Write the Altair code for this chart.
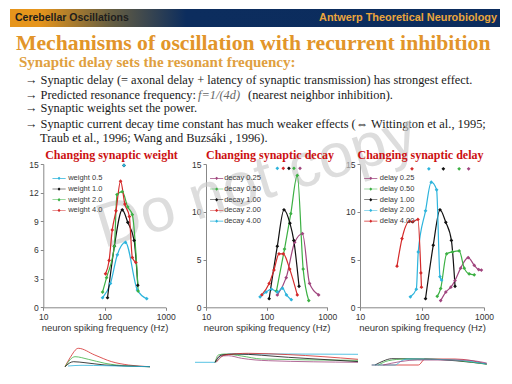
import altair as alt
import pandas as pd

# ---------------- text ----------------
HEADER_LEFT = "Cerebellar Oscillations"
HEADER_RIGHT = "Antwerp Theoretical Neurobiology"
TITLE = "Mechanisms of oscillation with recurrent inhibition"
SUBTITLE = "Synaptic delay sets the resonant frequency:"
BULLET1 = "\u2192 Synaptic delay (= axonal delay + latency of synaptic transmission) has strongest effect."
BULLET2A = "\u2192 Predicted resonance frequency:"
BULLET2B = "f=1/(4d)"
BULLET2C = "(nearest neighbor inhibition)."
BULLET3 = "\u2192 Synaptic weights set the power."
BULLET4 = "\u2192 Synaptic current decay time constant has much weaker effects (\u21d4 Wittington et al., 1995;"
BULLET5 = "Traub et al., 1996; Wang and Buzs\u00e1ki , 1996)."
PANEL_TITLES = ["Changing synaptic weight", "Changing synaptic decay", "Changing synaptic delay"]
X_TITLE = "neuron spiking frequency (Hz)"
WATERMARK = "Do not copy"
X_TICKS = [10, 100, 1000]

# ---------------- panel 1: synaptic weight ----------------
weight_labels = ["weight 0.5", "weight 1.0", "weight 2.0", "weight 4.0"]
weight_colors = ["#2db4dc", "#111111", "#3cb043", "#d42a2a"]
w05_f = [93, 125, 162, 220, 345, 490]
w05_v = [1.0, 2.5, 5.5, 6.8, 1.8, 0.9]
w10_f = [112, 145, 195, 240, 305, 350]
w10_v = [1.0, 6.4, 10.2, 8.9, 7.0, 2.3]
w20_f = [93, 108, 145, 160, 195, 240, 285, 355]
w20_v = [1.6, 3.1, 6.4, 11.8, 12.1, 10.5, 9.7, 1.7]
w40_f = [104, 119, 134, 154, 183, 215, 255, 285, 325]
w40_v = [3.5, 4.9, 8.1, 10.1, 13.2, 10.8, 9.5, 5.2, 4.7]
weight_top_series = ["weight 1.0", "weight 0.5"]
weight_top_f = [208, 208]
weight_top_v = [14.85, 14.85]
weight_yticks = [0, 3, 6, 9, 12, 15]

# ---------------- panel 2: synaptic decay ----------------
decay_labels = ["decay 0.25", "decay 0.50", "decay 1.00", "decay 2.00", "decay 4.00"]
decay_colors = ["#a0457e", "#3cb043", "#111111", "#d42a2a", "#2db4dc"]
d025_f = [150, 210, 290, 390, 510, 720]
d025_v = [1.3, 3.1, 6.8, 7.7, 2.5, 1.3]
d050_f = [145, 197, 250, 320, 400, 495]
d050_v = [1.7, 6.1, 9.8, 13.8, 4.0, 0.7]
d100_f = [110, 150, 193, 242, 280, 342]
d100_v = [0.9, 6.4, 10.2, 8.8, 7.0, 2.2]
d200_f = [83, 110, 132, 160, 188, 240, 320]
d200_v = [1.3, 2.5, 3.9, 5.6, 5.6, 4.0, 1.3]
d400_f = [78, 98, 120, 150, 182, 212, 255]
d400_v = [1.1, 1.6, 1.9, 1.6, 2.0, 1.3, 0.8]
decay_top_series = ["decay 0.25", "decay 0.50", "decay 1.00", "decay 2.00", "decay 4.00"]
decay_top_f = [355, 282, 233, 188, 150]
decay_top_v = [14.55, 14.55, 14.55, 14.55, 14.55]

# ---------------- panel 3: synaptic delay ----------------
delay_labels = ["delay 0.25", "delay 0.50", "delay 1.00", "delay 2.00", "delay 4.00"]
delay_colors = ["#a0457e", "#3cb043", "#111111", "#2db4dc", "#d42a2a"]
l025_f = [200, 242, 292, 341, 420, 556, 696, 820, 908]
l025_v = [0.7, 1.6, 2.1, 2.8, 4.1, 5.2, 4.4, 3.95, 3.9]
l050_f = [176, 200, 250, 310, 398, 480, 575, 696]
l050_v = [1.15, 1.96, 5.6, 5.8, 5.9, 4.1, 3.5, 3.4]
l100_f = [114, 152, 195, 242, 298, 341]
l100_v = [0.9, 6.5, 10.2, 8.9, 7.0, 2.2]
l200_f = [65, 81, 87, 114, 141, 172, 195, 207]
l200_v = [1.1, 1.9, 5.8, 10.1, 13.1, 12.3, 3.2, 2.85]
l400_f = [39.5, 47.6, 62.7, 71, 86, 96, 98]
l400_v = [4.3, 7.2, 9.0, 8.95, 9.2, 3.6, 2.1]
delay_top_series = ["delay 0.25", "delay 0.50", "delay 1.00", "delay 2.00", "delay 4.00"]
delay_top_f = [565, 397, 221, 129, 69]
delay_top_v = [14.5, 14.5, 14.5, 14.5, 14.5]
decay_yticks = [0, 5, 10, 15]

# ---------------- thumbnail traces (time, amplitude) ----------------
th1_series = ["weight 4.0", "weight 2.0", "weight 1.0", "weight 0.5"]
th1_t = [[0, 6, 15.6, 35, 55, 74.5, 100],
         [0, 11.8, 27.4, 47, 74, 100],
         [0, 9.8, 23.5, 47, 86, 100],
         [3.5, 20, 47, 100]]
th1_a = [[0, 9, 18.4, 11.7, 5, 1.7, 0],
         [0, 10, 7.4, 3.4, 0.7, 0],
         [0, 5, 4, 1.7, 0.4, 0],
         [0.7, 1.4, 1, 0]]
th2_series = ["decay 4.00", "decay 0.25", "decay 0.50", "decay 1.00", "decay 2.00"]
th2_t = [[0, 12.3, 16.4, 22.5, 57.3, 100],
         [12.3, 15.3, 20.4, 28.6, 45, 100],
         [12.3, 14.3, 18.4, 28.6, 40.9, 100],
         [12.3, 16.4, 24.5, 57.3, 100],
         [13, 18.4, 32.7, 57, 100]]
th2_a = [[0, 0, 6.3, 8.3, 8.3, 8],
         [0, 6.3, 6.6, 4, 1.6, 0],
         [0, 7.3, 8.3, 6.3, 3.3, 2],
         [0, 7.3, 8.3, 5, 0.7],
         [0, 7.3, 9, 7.7, 3]]
th3_series = ["delay 4.00", "delay 1.00", "delay 0.50", "delay 2.00", "delay 0.25"]
th3_t = [[0, 40.6, 46.4, 72.5, 100],
         [2.9, 10.1, 17.4, 46.4, 100],
         [5.8, 14.5, 29, 58, 100],
         [0, 20.3, 26, 31.9, 72.5, 100],
         [10, 40, 80, 100]]
th3_a = [[0, 0, 6, 6, 1],
         [0, 4, 6.3, 6, 1],
         [0, 4.3, 6, 5.7, 0.7],
         [0, 0, 4.3, 6, 5, 1],
         [0, 5, 5, 2]]

# ---------------- build tables ----------------
def table(labels, fs, vs):
    rows = []
    for lab, f, v in zip(labels, fs, vs):
        for a, b in zip(f, v):
            rows.append({"series": lab, "f": a, "v": b})
    return pd.DataFrame(rows)

def top_table(series, fs, vs):
    return pd.DataFrame({"series": series, "f": fs, "v": vs})

def trace_table(series, ts, amps):
    rows = []
    for lab, t, a in zip(series, ts, amps):
        for i, (x, y) in enumerate(zip(t, a)):
            rows.append({"series": lab, "t": x, "a": y, "i": i})
    return pd.DataFrame(rows)

weight_df = table(weight_labels, [w05_f, w10_f, w20_f, w40_f], [w05_v, w10_v, w20_v, w40_v])
decay_df = table(decay_labels, [d025_f, d050_f, d100_f, d200_f, d400_f], [d025_v, d050_v, d100_v, d200_v, d400_v])
delay_df = table(delay_labels, [l025_f, l050_f, l100_f, l200_f, l400_f], [l025_v, l050_v, l100_v, l200_v, l400_v])
weight_top = top_table(weight_top_series, weight_top_f, weight_top_v)
decay_top = top_table(decay_top_series, decay_top_f, decay_top_v)
delay_top = top_table(delay_top_series, delay_top_f, delay_top_v)
th1_df = trace_table(th1_series, th1_t, th1_a)
th2_df = trace_table(th2_series, th2_t, th2_a)
th3_df = trace_table(th3_series, th3_t, th3_a)

ONE = pd.DataFrame({"k": [0]})
SERIF = "Liberation Serif"
SANS = "Liberation Sans"
W, H = 496, 368
AXIS_Y = 299.3          # pixel row of the x axes
LEGEND_PATH = "M-2.2,-0.1H2.2V0.1H-2.2Z M0,-0.55L0.55,0L0,0.55L-0.55,0Z"


def txt(text, x, y, size, color, font=SERIF, weight="normal", style="normal",
        align="left", baseline="middle", angle=0, opacity=1.0):
    return alt.Chart(ONE).mark_text(
        text=text, font=font, fontSize=size, fontWeight=weight, fontStyle=style,
        color=color, align=align, baseline=baseline, angle=angle, opacity=opacity
    ).encode(x=alt.value(x), y=alt.value(y))


def panel(df, top, labels, colors, xr, yticks, yaxis_x, lx, ly, loff):
    xenc = alt.X("f:Q",
                 scale=alt.Scale(type="log", domain=[10, 1000], range=xr, nice=False),
                 axis=alt.Axis(values=X_TICKS, format="d", orient="bottom", offset=AXIS_Y - H,
                               title=X_TITLE, titleFont=SANS, titleFontSize=9.5,
                               titleFontWeight="normal", titleColor="#333333", titlePadding=2,
                               labelFont=SANS, labelFontSize=8.5, labelColor="#333333",
                               labelPadding=2, tickSize=3, tickColor="#888888",
                               domainColor="#888888", grid=False, labelFlush=False))
    yenc = alt.Y("v:Q",
                 scale=alt.Scale(domain=[0, 15], range=[AXIS_Y, 156], nice=False, zero=True),
                 axis=alt.Axis(values=yticks, orient="left", offset=-yaxis_x, title=None,
                               labelFont=SANS, labelFontSize=8.5, labelColor="#333333",
                               labelPadding=2, tickSize=3, tickColor="#888888",
                               domainColor="#888888", grid=False))
    cscale = alt.Scale(domain=labels, range=colors)
    leg = alt.Legend(orient="none", legendX=lx, legendY=ly, title=None,
                     labelFont=SANS, labelFontSize=7.5, labelColor="#3a3a3a",
                     symbolType=LEGEND_PATH, symbolSize=36,
                     symbolStrokeWidth=0, rowPadding=1.7,
                     labelOffset=loff, padding=0)
    cenc = alt.Color("series:N", scale=cscale, legend=leg)
    line = alt.Chart(df).mark_line(strokeWidth=1.2, interpolate="monotone").encode(
        x=xenc, y=yenc, color=cenc)
    pts = alt.Chart(df).mark_point(shape="diamond", filled=True, size=14, opacity=1).encode(
        x=xenc, y=yenc, color=cenc)
    tops = alt.Chart(top).mark_point(shape="diamond", filled=True, size=14, opacity=1).encode(
        x=xenc, y=yenc, color=cenc)
    return alt.layer(line, pts, tops)


def thumb(df, labels, colors, xr, yr):
    return alt.Chart(df).mark_line(strokeWidth=0.8, interpolate="monotone").encode(
        x=alt.X("t:Q", scale=alt.Scale(domain=[0, 100], range=xr, nice=False), axis=None),
        y=alt.Y("a:Q", scale=alt.Scale(domain=[0, 20], range=yr, nice=False), axis=None),
        color=alt.Color("series:N", scale=alt.Scale(domain=labels, range=colors), legend=None),
        order="i:Q")


header_bar = alt.Chart(ONE).mark_rect(
    fill=alt.Gradient(gradient="linear", x1=0, x2=1, y1=0, y2=0,
                      stops=[alt.GradientStop(color="#e6951c", offset=0),
                             alt.GradientStop(color="#e6951c", offset=0.06),
                             alt.GradientStop(color="#6a6040", offset=0.2),
                             alt.GradientStop(color="#0c2d5e", offset=0.36),
                             alt.GradientStop(color="#0b2c5d", offset=1)])
).encode(x=alt.value(2), x2=alt.value(492), y=alt.value(1), y2=alt.value(19))

layers = [
    header_bar,
    txt(HEADER_LEFT, 7, 10, 10.5, "#1d1d1d", font=SANS, weight="bold"),
    txt(HEADER_RIGHT, 489, 10, 10.9, "#eaa53c", font=SANS, weight="bold", align="right"),
    txt(TITLE, 8, 35, 21.7, "#e2952a", weight="bold"),
    txt(SUBTITLE, 11, 54, 15, "#e0a040", weight="bold"),
    txt(BULLET1, 17, 72, 12.4, "#1a1a1a"),
    txt(BULLET2A, 17, 87, 12.4, "#1a1a1a"),
    txt(BULLET2B, 190, 87, 12.4, "#666666", style="italic"),
    txt(BULLET2C, 240, 87, 12.4, "#1a1a1a"),
    txt(BULLET3, 17, 100, 12.4, "#1a1a1a"),
    txt(BULLET4, 17, 116, 12.4, "#1a1a1a"),
    txt(BULLET5, 32, 130, 12.4, "#1a1a1a"),
    txt(WATERMARK, 254, 192, 62, "#cbcbcb", font=SANS, angle=343, align="center",
        baseline="alphabetic", opacity=0.65),
    txt(PANEL_TITLES[0], 103.5, 147, 12, "#cc1111", weight="bold", align="center"),
    txt(PANEL_TITLES[1], 262, 147, 12, "#cc1111", weight="bold", align="center"),
    txt(PANEL_TITLES[2], 412.5, 147, 12, "#cc1111", weight="bold", align="center"),
    panel(weight_df, weight_top, weight_labels, weight_colors, [35.3, 157.7], weight_yticks,
          35.3, 47.3, 166.6, 5.4),
    panel(decay_df, decay_top, decay_labels, decay_colors, [198, 319.3], decay_yticks,
          198, 204.9, 166.6, 3.8),
    panel(delay_df, delay_top, delay_labels, delay_colors, [352, 476], decay_yticks,
          352, 359, 166.6, 5.3),
    thumb(th1_df, weight_labels[::-1], weight_colors[::-1], [57, 142], [358.7, 338.7]),
    thumb(th2_df, decay_labels, decay_colors, [187, 350], [354.3, 334.3]),
    thumb(th3_df, delay_labels, delay_colors, [363.7, 478.7], [357, 337]),
]

chart = alt.layer(*layers).resolve_scale(
    x="independent", y="independent", color="independent"
).resolve_axis(x="independent", y="independent").resolve_legend(color="independent").properties(
    width=W, height=H, autosize=alt.AutoSizeParams(type="none"), padding=0
).configure_view(stroke=None)

chart.save("out.html", embed_options={"renderer": "svg", "actions": False})
